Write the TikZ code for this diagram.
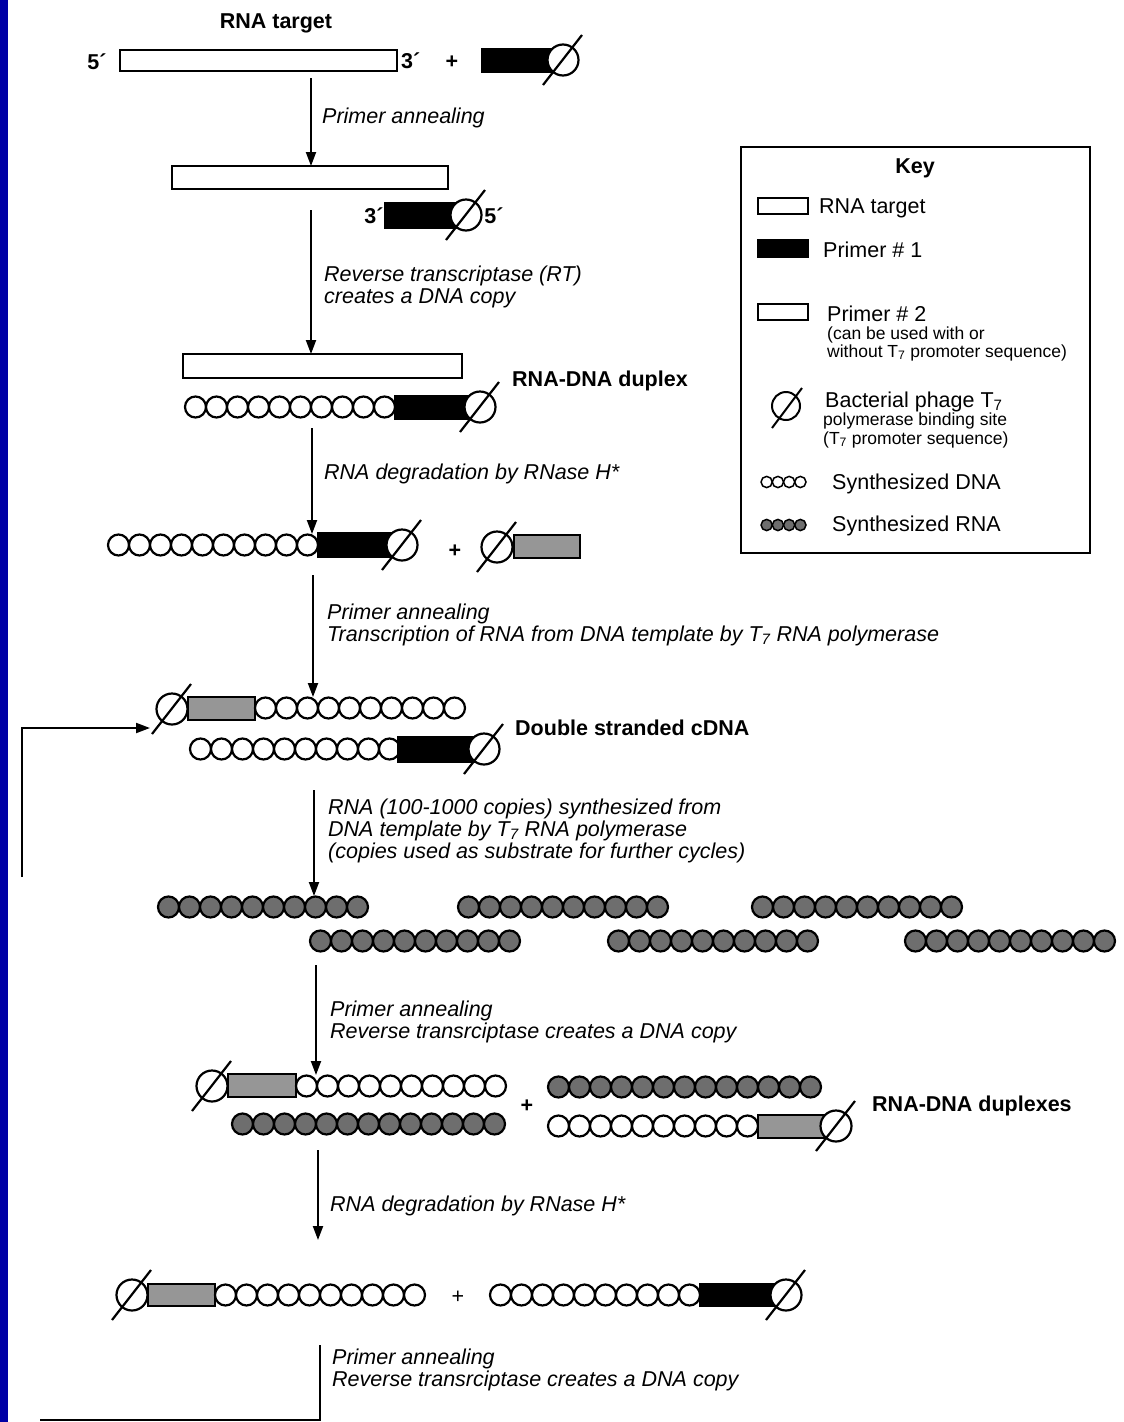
\documentclass[tikz,border=0pt]{standalone}
\usepackage{fontspec}
\setmainfont{Liberation Sans}
\usetikzlibrary{arrows.meta}
\definecolor{slideblue}{RGB}{0,0,165}
\definecolor{rnagray}{RGB}{110,110,110}
\definecolor{primgray}{RGB}{150,150,150}
\tikzset{
  dnac/.style={draw=black, line width=2.2pt, fill=white},
  rnac/.style={draw=black, line width=2.2pt, fill=rnagray},
  rnabox/.style={draw=black, line width=2.4pt, fill=white},
  blackbox/.style={draw=black, line width=2pt, fill=black},
  graybox/.style={draw=black, line width=2pt, fill=primgray},
  phic/.style={draw=black, line width=2.2pt, fill=white},
  phis/.style={draw=black, line width=2.2pt},
  flow/.style={draw=black, line width=2pt, -{Triangle[length=14pt,width=10pt]}},
  plain/.style={draw=black, line width=2pt},
  lbl/.style={font=\fontsize{21.5}{22}\selectfont\itshape, anchor=base west, inner sep=0pt},
  bld/.style={font=\fontsize{21.5}{22}\selectfont\bfseries, anchor=base west, inner sep=0pt},
  keyt/.style={font=\fontsize{21.5}{22}\selectfont, anchor=base west, inner sep=0pt},
  keys/.style={font=\fontsize{17.5}{18}\selectfont, anchor=base west, inner sep=0pt},
}
\newcommand{\DNAs}[3]{\foreach \k in {1,...,#3}{\draw[dnac] ({#1+21*\k-10.5},#2) circle[radius=10.5];}}
\newcommand{\RNAs}[3]{\foreach \k in {1,...,#3}{\draw[rnac] ({#1+21*\k-10.5},#2) circle[radius=10.5];}}
\newcommand{\PhiSym}[2]{\draw[phic] (#1,#2) circle[radius=15.5]; \draw[phis] ({#1-20},{#2+25}) -- ({#1+19},{#2-25});}
\newcommand{\KeyDNA}[2]{\foreach \k in {1,...,4}{\draw[draw=black, line width=1.5pt, fill=#2] ({761+11.25*\k-5.6},#1) circle[radius=5.6];}}
\begin{document}
\begin{tikzpicture}[x=1pt,y=-1pt]
\useasboundingbox (0,0) rectangle (1124,1422);
\fill[white] (0,0) rectangle (1124,1422);
\fill[slideblue] (0,0) rectangle (8,1422);

% ---------- Row 1
\node[bld, anchor=base] (t1) at (276,28) {RNA target};
\node[bld, anchor=base] (p5a) at (97,69) {5´};
\draw[rnabox] (120,50) rectangle (397,71);
\node[bld] (p3a) at (401,68) {3´};
\node[bld, anchor=base] (plus1) at (452,68) {+};
\draw[blackbox] (482,49) rectangle (556,72);
\PhiSym{563}{60}

\coordinate (a1s) at (311,78); \coordinate (a1e) at (311,166);
\draw[flow] (a1s) -- (a1e);
\node[lbl] (l1) at (322,123) {Primer annealing};

% ---------- Row 2
\draw[rnabox] (172,166) rectangle (448,189);
\node[bld, anchor=base] (p3b) at (374,223) {3´};
\draw[blackbox] (385,203) rectangle (458,228);
\PhiSym{466}{215}
\node[bld, anchor=base] (p5b) at (494,223) {5´};

\coordinate (a2s) at (311,210); \coordinate (a2e) at (311,354);
\draw[flow] (a2s) -- (a2e);
\node[lbl] (l2a) at (324,281) {Reverse transcriptase (RT)};
\node[lbl] (l2b) at (324,303) {creates a DNA copy};

% ---------- Row 3
\draw[rnabox] (183,354) rectangle (462,378);
\DNAs{185}{407}{10}
\draw[blackbox] (395,396) rectangle (470,419);
\PhiSym{480}{407}
\node[bld] (d1) at (512,386) {RNA-DNA duplex};

\coordinate (a3s) at (312,428); \coordinate (a3e) at (312,534);
\draw[flow] (a3s) -- (a3e);
\node[lbl] (l3) at (324,479) {RNA degradation by RNase H*};

% ---------- Row 4
\DNAs{108}{545}{10}
\draw[blackbox] (318,533) rectangle (392,557);
\PhiSym{402}{545}
\node[bld, anchor=base] (plus2) at (455,557) {+};
\PhiSym{497}{547}
\draw[graybox] (514,535) rectangle (580,558);

\coordinate (a4s) at (313,575); \coordinate (a4e) at (313,697);
\draw[flow] (a4s) -- (a4e);
\node[lbl] (l4a) at (327,619) {Primer annealing};
\node[lbl] (l4b) at (327,641) {Transcription of RNA from DNA template by T\textsubscript{7} RNA polymerase};

% ---------- Row 5
\PhiSym{172}{709}
\draw[graybox] (188,697) rectangle (255,720);
\DNAs{255}{708}{10}
\DNAs{190}{749}{10}
\draw[blackbox] (398,737) rectangle (475,762);
\PhiSym{484}{749}
\node[bld] (d2) at (515,735) {Double stranded cDNA};

\coordinate (fb1) at (22,877); \coordinate (fb2) at (22,728); \coordinate (fb3) at (150,728);
\draw[flow] (fb1) -- (fb2) -- (fb3);

\coordinate (a5s) at (314,790); \coordinate (a5e) at (314,896);
\draw[flow] (a5s) -- (a5e);
\node[lbl] (l5a) at (328,814) {RNA (100-1000 copies) synthesized from};
\node[lbl] (l5b) at (328,836) {DNA template by T\textsubscript{7} RNA polymerase};
\node[lbl] (l5c) at (328,858) {(copies used as substrate for further cycles)};

% ---------- Row 6
\RNAs{158}{907}{10}
\RNAs{458}{907}{10}
\RNAs{752}{907}{10}
\RNAs{310}{941}{10}
\RNAs{608}{941}{10}
\RNAs{905}{941}{10}

\coordinate (a6s) at (316,965); \coordinate (a6e) at (316,1075);
\draw[flow] (a6s) -- (a6e);
\node[lbl] (l6a) at (330,1016) {Primer annealing};
\node[lbl] (l6b) at (330,1038) {Reverse transrciptase creates a DNA copy};

% ---------- Row 7
\PhiSym{212}{1086}
\draw[graybox] (228,1074) rectangle (296,1097);
\DNAs{296}{1086}{10}
\RNAs{232}{1124}{13}
\node[bld, anchor=base] (plus3) at (527,1112) {+};
\RNAs{548}{1087}{13}
\DNAs{548}{1126}{10}
\draw[graybox] (758,1115) rectangle (828,1138);
\PhiSym{836}{1126}
\node[bld] (d3) at (872,1111) {RNA-DNA duplexes};

\coordinate (a7s) at (318,1150); \coordinate (a7e) at (318,1240);
\draw[flow] (a7s) -- (a7e);
\node[lbl] (l7) at (330,1211) {RNA degradation by RNase H*};

% ---------- Row 8
\PhiSym{132}{1295}
\draw[graybox] (148,1284) rectangle (215,1306);
\DNAs{215}{1295}{10}
\node[keyt, anchor=base] (plus4) at (458,1303) {+};
\DNAs{490}{1295}{10}
\draw[blackbox] (700,1284) rectangle (778,1306);
\PhiSym{786}{1295}

\coordinate (b1) at (320,1345); \coordinate (b2) at (320,1420); \coordinate (b3) at (40,1420);
\draw[plain] (b1) -- (b2) -- (b3);
\node[lbl] (l8a) at (332,1364) {Primer annealing};
\node[lbl] (l8b) at (332,1386) {Reverse transrciptase creates a DNA copy};

% ---------- Key
\draw[plain] (741,147) rectangle (1090,553);
\node[bld, anchor=base] (key) at (915,173) {Key};
\draw[rnabox, line width=2pt] (758,198) rectangle (808,214);
\node[keyt] (k1) at (819,213) {RNA target};
\draw[blackbox] (758,240) rectangle (808,257);
\node[keyt] (k2) at (823,257) {Primer \# 1};
\draw[rnabox, line width=2pt] (758,304) rectangle (808,320);
\node[keyt] (k3) at (827,321) {Primer \# 2};
\node[keys] (k3a) at (827,339) {(can be used with or};
\node[keys] (k3b) at (827,357) {without T\textsubscript{7} promoter sequence)};
\draw[phic, line width=2pt] (786,406) circle[radius=14];
\draw[phis, line width=2pt] (772,428) -- (802,388);
\node[keyt] (k4) at (825,407) {Bacterial phage T\textsubscript{7}};
\node[keys] (k4a) at (823,425) {polymerase binding site};
\node[keys] (k4b) at (823,444) {(T\textsubscript{7} promoter sequence)};
\KeyDNA{482}{white}
\node[keyt] (k5) at (832,489) {Synthesized DNA};
\KeyDNA{525}{rnagray}
\node[keyt] (k6) at (832,531) {Synthesized RNA};
\end{tikzpicture}
\end{document}
